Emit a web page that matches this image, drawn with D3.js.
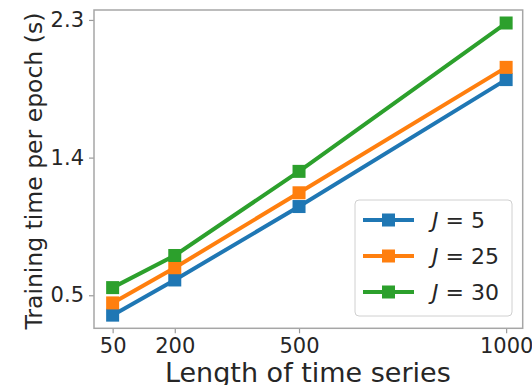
<!DOCTYPE html>
<html>
<head>
<meta charset="utf-8">
<script src="https://cdn.jsdelivr.net/npm/d3@7"></script>
<style>
  body { margin: 0; background: #fff; }
  text { font-family: "DejaVu Sans", sans-serif; fill: #262626; }
</style>
</head>
<body>
<div id="chart"></div>
<script>
// series lengths on the x axis
const lengths = [50, 200, 500, 1000];
// training time per epoch (s) for each J
const j5 = [0.37, 0.60, 1.08, 1.91];
const j25 = [0.45, 0.68, 1.17, 1.99];
const j30 = [0.55, 0.76, 1.31, 2.28];
const seriesNames = ["5", "25", "30"];
const yTicks = [0.5, 1.4, 2.3];

const width = 532, height = 385;
const mLeft = 94, mRight = 522.7, mTop = 10, mBottom = 328.3;
const colors = ["#1f77b4", "#ff7f0e", "#2ca02c"];

const series = [j5, j25, j30].map((vals, i) => ({
  name: seriesNames[i],
  color: colors[i],
  points: vals.map((v, k) => ({x: lengths[k], y: v}))
}));

const x = d3.scaleLinear().domain([5, 1040]).range([mLeft, mRight]);
const y = d3.scaleLinear().domain([0.284, 2.365]).range([mBottom, mTop]);

const svg = d3.select("#chart")
  .append("svg")
  .attr("width", width)
  .attr("height", height);

// axes
const xAxis = svg.append("g")
  .attr("transform", `translate(0,${mBottom})`)
  .call(d3.axisBottom(x).tickValues(lengths).tickFormat(d3.format("d")).tickSize(5).tickPadding(5));
const yAxis = svg.append("g")
  .attr("transform", `translate(${mLeft},0)`)
  .call(d3.axisLeft(y).tickValues(yTicks).tickFormat(d3.format(".1f")).tickSize(5).tickPadding(5));

[xAxis, yAxis].forEach(g => {
  g.select(".domain").remove();
  g.selectAll(".tick line").attr("stroke", "#9a9a9a").attr("stroke-width", 1.2);
  g.selectAll(".tick text").attr("font-size", 21).attr("fill", "#262626");
});

// frame
svg.append("rect")
  .attr("x", mLeft).attr("y", mTop)
  .attr("width", mRight - mLeft).attr("height", mBottom - mTop)
  .attr("fill", "none").attr("stroke", "#a6a6a6").attr("stroke-width", 1.5);

// lines and markers
const line = d3.line().x(d => x(d.x)).y(d => y(d.y));
const ms = 13;
series.forEach(s => {
  const g = svg.append("g");
  g.append("path")
    .attr("d", line(s.points))
    .attr("fill", "none")
    .attr("stroke", s.color)
    .attr("stroke-width", 4);
  g.selectAll("rect").data(s.points).enter().append("rect")
    .attr("x", d => x(d.x) - ms / 2)
    .attr("y", d => y(d.y) - ms / 2)
    .attr("width", ms).attr("height", ms)
    .attr("fill", s.color);
});

// axis labels
svg.append("text")
  .attr("x", (mLeft + mRight) / 2 - 0.5)
  .attr("y", 382)
  .attr("text-anchor", "middle")
  .attr("font-size", 27)
  .text("Length of time series");

svg.append("text")
  .attr("transform", `translate(42,${(mTop + mBottom) / 2 + 2}) rotate(-90)`)
  .attr("text-anchor", "middle")
  .attr("font-size", 23.5)
  .text("Training time per epoch (s)");

// legend
const legend = svg.append("g");
legend.append("rect")
  .attr("x", 355).attr("y", 200)
  .attr("width", 157).attr("height", 116)
  .attr("rx", 4)
  .attr("fill", "rgba(255,255,255,0.8)")
  .attr("stroke", "#d0d0d0")
  .attr("stroke-width", 1);

series.forEach((s, i) => {
  const cy = 220 + i * 36;
  legend.append("line")
    .attr("x1", 363).attr("x2", 414)
    .attr("y1", cy).attr("y2", cy)
    .attr("stroke", s.color).attr("stroke-width", 4);
  legend.append("rect")
    .attr("x", 388.5 - ms / 2).attr("y", cy - ms / 2)
    .attr("width", ms).attr("height", ms)
    .attr("fill", s.color);
  const t = legend.append("text")
    .attr("x", 432).attr("y", cy + 8)
    .attr("font-size", 22);
  t.append("tspan").attr("font-style", "italic").text("J");
  t.append("tspan").text(" = " + s.name);
});
</script>
</body>
</html>
